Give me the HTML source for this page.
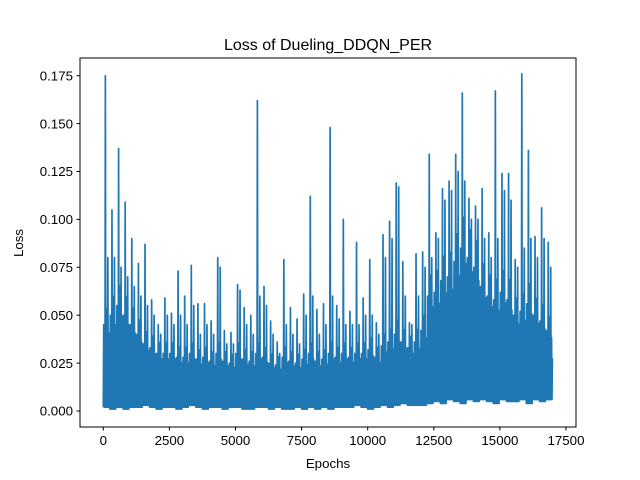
<!DOCTYPE html>
<html><head><meta charset="utf-8"><style>
html,body{margin:0;padding:0;background:#fff;}
svg{display:block;font-family:"Liberation Sans","DejaVu Sans",sans-serif;}
</style></head><body>
<svg id="chart" width="640" height="480" viewBox="0 0 640 480" xmlns="http://www.w3.org/2000/svg">
<rect x="0" y="0" width="640" height="480" fill="#fff"/>
<text x="328" y="50" font-size="16" text-anchor="middle" fill="#000">Loss of Dueling_DDQN_PER</text>
<g id="plot"></g>
<rect x="80" y="58" width="496" height="369" fill="none" stroke="#000" stroke-width="1"/>
<g id="xticks"></g>
<g id="yticks"></g>
<text x="328" y="468" font-size="13.3" text-anchor="middle">Epochs</text>
<text x="23" y="243" font-size="13.3" text-anchor="middle" transform="rotate(-90 23 243)">Loss</text>
</svg>
<script>
const binSize = 250;
const peaks = [0.175,0.105,0.137,0.109,0.090,0.077,0.087,0.058,0.045,0.059,0.051,0.073,0.060,0.076,0.056,0.056,0.047,0.080,0.042,0.041,0.066,0.054,0.050,0.162,0.065,0.047,0.036,0.079,0.054,0.048,0.061,0.112,0.053,0.056,0.148,0.055,0.100,0.052,0.088,0.059,0.079,0.046,0.092,0.099,0.119,0.078,0.046,0.082,0.083,0.134,0.093,0.116,0.120,0.134,0.166,0.111,0.107,0.116,0.093,0.167,0.124,0.124,0.079,0.176,0.136,0.091,0.106,0.088];
const peaks2 = [0.08,0.08,0.075,0.07,0.065,0.06,0.055,0.05,0.04,0.05,0.045,0.05,0.045,0.055,0.04,0.045,0.04,0.075,0.035,0.035,0.063,0.045,0.04,0.06,0.055,0.04,0.03,0.045,0.04,0.035,0.05,0.06,0.04,0.045,0.06,0.048,0.045,0.045,0.045,0.05,0.05,0.04,0.08,0.09,0.117,0.06,0.045,0.06,0.075,0.08,0.09,0.11,0.115,0.125,0.12,0.1,0.1,0.09,0.08,0.09,0.115,0.11,0.075,0.085,0.09,0.08,0.09,0.075];
const bodies = [0.045,0.05,0.055,0.05,0.045,0.04,0.035,0.033,0.03,0.03,0.03,0.028,0.028,0.03,0.027,0.028,0.026,0.03,0.026,0.025,0.03,0.027,0.026,0.03,0.028,0.025,0.024,0.028,0.026,0.025,0.027,0.03,0.026,0.027,0.03,0.028,0.03,0.028,0.03,0.03,0.032,0.028,0.034,0.036,0.04,0.036,0.033,0.036,0.042,0.06,0.062,0.068,0.07,0.078,0.085,0.08,0.075,0.065,0.06,0.058,0.062,0.058,0.05,0.052,0.056,0.05,0.047,0.042];
const lows = [0.002,0.001,0.002,0.001,0.002,0.002,0.003,0.002,0.001,0.002,0.002,0.001,0.002,0.003,0.002,0.001,0.002,0.002,0.001,0.002,0.002,0.001,0.001,0.002,0.002,0.001,0.002,0.001,0.001,0.002,0.001,0.002,0.001,0.002,0.001,0.002,0.002,0.002,0.003,0.002,0.001,0.002,0.003,0.002,0.003,0.004,0.003,0.003,0.003,0.004,0.005,0.004,0.006,0.005,0.004,0.006,0.005,0.006,0.005,0.004,0.006,0.005,0.005,0.006,0.004,0.006,0.005,0.006];
const xTicks = [0,2500,5000,7500,10000,12500,15000,17500];
const yTicks = [0,0.025,0.05,0.075,0.1,0.125,0.15,0.175];
const totalEpochs = 17000;

const NS = "http://www.w3.org/2000/svg";
function xs(v){ return 103.3 + v * (66.1/2500); }
function ys(v){ return 411 - v * (47.9/0.025); }

const plot = document.getElementById('plot');
let d = "";
// rendering pattern within a bin: 0=low, 2=peak, 3=peak2, fractions = share of body
const mult = [0,1,0,0.7,0,2,0,0.85,0,1.2,0,3,0,0.9,0,0.6];
const steps = mult.length;
for (let i = 0; i < peaks.length; i++) {
  const start = i * binSize;
  const end = Math.min((i + 1) * binSize, totalEpochs);
  for (let s = 0; s < steps; s++) {
    const e = start + (end - start) * s / steps;
    const m = mult[s];
    let v;
    if (m === 0) v = lows[i];
    else if (m === 2) v = peaks[i];
    else if (m === 3) v = peaks2[i];
    else v = lows[i] + (bodies[i] - lows[i]) * m;
    d += (d ? "L" : "M") + xs(e).toFixed(2) + "," + ys(v).toFixed(2);
  }
}
const line = document.createElementNS(NS, 'path');
line.setAttribute('d', d);
line.setAttribute('fill', 'none');
line.setAttribute('stroke', '#1f77b4');
line.setAttribute('stroke-width', '1.7');
line.setAttribute('stroke-linejoin', 'round');


plot.appendChild(line);

const xg = document.getElementById('xticks');
xTicks.forEach(t => {
  const x = xs(t);
  const tk = document.createElementNS(NS, 'line');
  tk.setAttribute('x1', x); tk.setAttribute('x2', x);
  tk.setAttribute('y1', 427); tk.setAttribute('y2', 430.5);
  tk.setAttribute('stroke', '#000');
  
  
  xg.appendChild(tk);
  const lb = document.createElementNS(NS, 'text');
  lb.setAttribute('x', x); lb.setAttribute('y', 445);
  lb.setAttribute('font-size', '13.3');
  lb.setAttribute('text-anchor', 'middle');
  lb.textContent = String(t);
  
  
  xg.appendChild(lb);
});
const yg = document.getElementById('yticks');
yTicks.forEach(t => {
  const y = ys(t);
  const tk = document.createElementNS(NS, 'line');
  tk.setAttribute('x1', 76.5); tk.setAttribute('x2', 80);
  tk.setAttribute('y1', y); tk.setAttribute('y2', y);
  tk.setAttribute('stroke', '#000');
  
  
  yg.appendChild(tk);
  const lb = document.createElementNS(NS, 'text');
  lb.setAttribute('x', 73); lb.setAttribute('y', y + 4.7);
  lb.setAttribute('font-size', '13.3');
  lb.setAttribute('text-anchor', 'end');
  lb.textContent = t.toFixed(3);
  
  
  yg.appendChild(lb);
});
</script>
</body></html>
